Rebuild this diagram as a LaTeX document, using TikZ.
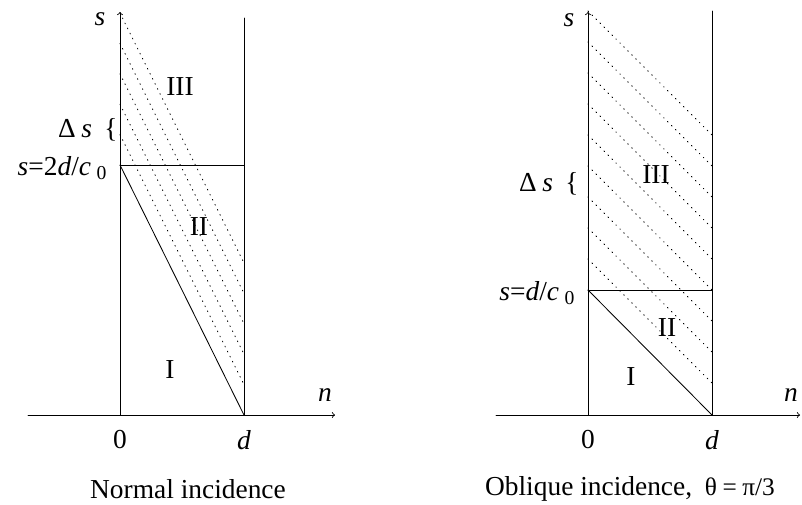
\documentclass[tikz,border=0pt]{standalone}
\usepackage{fontspec}
\setmainfont{Liberation Serif}
\begin{document}
\begin{tikzpicture}[line cap=round,line join=round,>=to,line width=0.6pt,
  every node/.style={font=\fontsize{19.5}{23}\selectfont,inner sep=0pt},
  dotline/.style={line width=0.6pt,dash pattern=on 0.6pt off 3.4pt}]

\useasboundingbox (-3,-2.225) rectangle (17.05,10.375);

% largura da placa
\def\slab{3.1}
% indice do c_0
\newcommand{\zsub}{\hspace{4pt}\raisebox{-3.5pt}{\fontsize{14}{16}\selectfont 0}}

%---------------------------
% incidencia normal
%---------------------------
\def\sa{6.25}   % s = 2d/c_0
\draw[->] (-2.3,0) -- (5.375,0);
\draw[->] (0,0) -- (0,10.075);
\draw (\slab,0) -- (\slab,9.925);
\draw (0,\sa) -- (\slab,\sa);
\draw (0,\sa) -- (\slab,0);
\foreach \k in {1,...,5}
  \draw[dotline] (0,\sa+0.76*\k) -- ++(\slab,-\sa);

\node (sA) at (-0.5,9.9) {\textit{s}};
\node (dsA) at (-1.125,7.15) {Δ\hspace{4pt}\textit{s}};
\node (brA) at (-0.225,7.125) {\{};
\node[anchor=base east] (cA) at (-0.325,6.0) {\textit{s}=2\textit{d}/\textit{c}\zsub};
\node (rIIIa) at (1.5,8.2) {III};
\node (rIIa) at (1.975,4.7) {II};
\node (rIa) at (1.25,1.125) {I};
\node (nA) at (5.125,0.5) {\textit{n}};
\node (zA) at (0,-0.625) {0};
\node (dA) at (\slab,-0.625) {\textit{d}};
\node (capA) at (1.7,-1.85) {Normal incidence};

%---------------------------
% incidencia obliqua
%---------------------------
\begin{scope}[xshift=11.7cm]
\def\sb{3.125}   % s = d/c_0
\draw[->] (-2.3,0) -- (5.3,0);
\draw[->] (0,0) -- (0,10.075);
\draw (\slab,0) -- (\slab,10.1);
\draw (0,\sb) -- (\slab,\sb);
\draw (0,\sb) -- (\slab,0);
\foreach \k in {1,...,9}
  \draw[dotline] (0,\sb+0.775*\k) -- ++(\slab,-\slab);

\node (sB) at (-0.475,9.875) {\textit{s}};
\node (dsB) at (-1.3,5.8) {Δ\hspace{4pt}\textit{s}};
\node (brB) at (-0.4,5.775) {\{};
\node[anchor=base east] (cB) at (-0.325,2.875) {\textit{s}=\textit{d}/\textit{c}\zsub};
\node (rIIIb) at (1.7,6.0) {III};
\node (rIIb) at (1.975,2.175) {II};
\node (rIb) at (1.075,0.95) {I};
\node (nB) at (5.075,0.5) {\textit{n}};
\node (zB) at (0,-0.625) {0};
\node (dB) at (\slab,-0.625) {\textit{d}};
\node (capB) at (1.05,-1.85) {Oblique incidence,\hspace{9pt}{\fontsize{18}{21}\selectfont θ\hspace{4pt}=\hspace{4pt}π/3}};
\end{scope}

\end{tikzpicture}
\end{document}
